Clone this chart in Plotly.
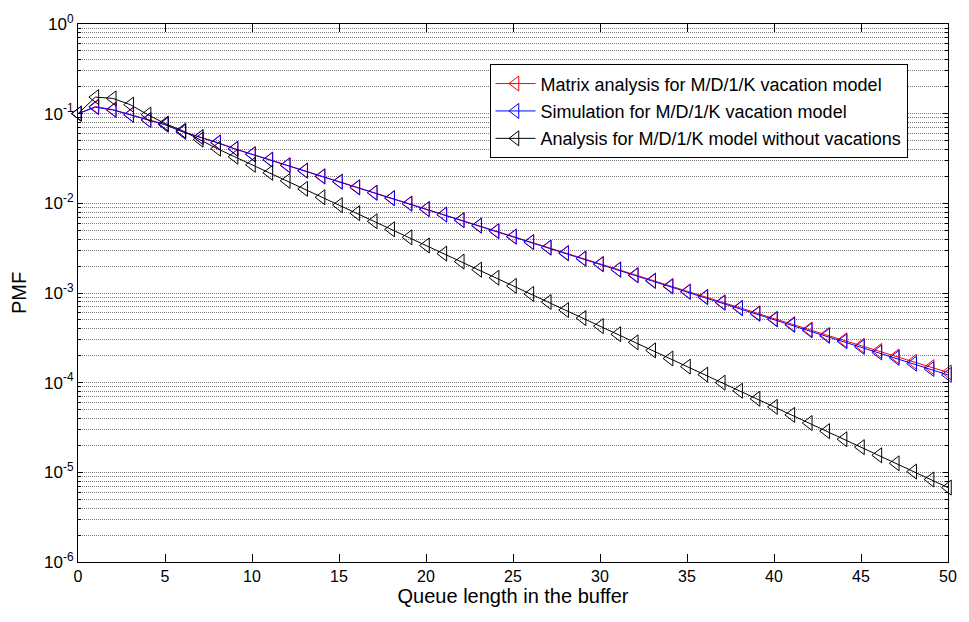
import plotly.graph_objects as go

queue_len = list(range(0, 51))

pmf_matrix = [0.100, 0.120, 0.111, 0.0977, 0.0851, 0.0759, 0.0631, 0.0550, 0.0479, 0.0407,
              0.0354, 0.0307, 0.0267, 0.0232, 0.0201, 0.0175, 0.0152, 0.0132, 0.01146, 0.00995,
              0.00865, 0.00751, 0.00652, 0.00566, 0.00492, 0.00427, 0.00371, 0.00322, 0.00280, 0.00243,
              0.00211, 0.00183, 0.00159, 0.00138, 0.00120, 0.00104, 0.000907, 0.000788, 0.000684, 0.000594,
              0.000516, 0.000450, 0.000392, 0.000341, 0.000297, 0.000259, 0.000226, 0.000196, 0.000171, 0.000149,
              0.000130]

pmf_sim = [0.100, 0.118, 0.110, 0.0970, 0.0846, 0.0752, 0.0628, 0.0548, 0.0474, 0.0405,
           0.0352, 0.0306, 0.0265, 0.0231, 0.0199, 0.0174, 0.0150, 0.0131, 0.01140, 0.00990,
           0.00860, 0.00748, 0.00648, 0.00563, 0.00488, 0.00424, 0.00369, 0.00320, 0.00277, 0.00241,
           0.00209, 0.00182, 0.00157, 0.00136, 0.00118, 0.00103, 0.000896, 0.000778, 0.000677, 0.000586,
           0.000508, 0.000441, 0.000383, 0.000333, 0.000289, 0.000250, 0.000217, 0.000189, 0.000163, 0.000142,
           0.000122]

pmf_novac = [0.100, 0.153, 0.148, 0.126, 0.0977, 0.0776, 0.0646, 0.0513, 0.0407, 0.0331,
             0.0269, 0.0219, 0.0178, 0.0145, 0.0117, 0.00955, 0.00776, 0.00631, 0.00513, 0.00417,
             0.00339, 0.00275, 0.00224, 0.00182, 0.00148, 0.00120, 0.000977, 0.000794, 0.000646, 0.000525,
             0.000427, 0.000347, 0.000282, 0.000229, 0.000186, 0.000151, 0.000123, 0.000100, 8.13e-5, 6.61e-5,
             5.37e-5, 4.37e-5, 3.55e-5, 2.88e-5, 2.34e-5, 1.91e-5, 1.55e-5, 1.26e-5, 1.02e-5, 8.32e-6,
             6.76e-6]

names = ["Matrix analysis for M/D/1/K vacation model",
         "Simulation for M/D/1/K vacation model",
         "Analysis for M/D/1/K model without vacations"]
colors = ["#ff0000", "#0000ff", "#000000"]
series = [pmf_matrix, pmf_sim, pmf_novac]

y_tickvals = [10 ** e for e in range(-6, 1)]
y_ticktext = ["10<sup>%d</sup>" % e for e in range(-6, 1)]
y_minor = [k * 10 ** e for e in range(-6, 0) for k in range(2, 10)]
x_tickvals = list(range(0, 51, 5))

FONT = "Liberation Sans, Arial, sans-serif"
GRID = "#7a7a7a"
DOT = "1px,1px"

fig = go.Figure()
for i, (name, col, vals) in enumerate(zip(names, colors, series)):
    fig.add_trace(go.Scatter(
        x=queue_len, y=vals, name=name, mode="lines+markers",
        legendgroup="g%d" % i, cliponaxis=False,
        line=dict(color=col, width=1),
        marker=dict(symbol="triangle-left-open", size=13, color=col, line=dict(width=1, color=col)),
    ))

fig.update_layout(
    width=969, height=622,
    margin=dict(l=78, r=16, t=22, b=60),
    paper_bgcolor="white", plot_bgcolor="white",
    font=dict(family=FONT, size=17, color="black"),
    showlegend=True,
    legend=dict(
        x=0.473, y=0.925, xanchor="left", yanchor="top",
        bgcolor="white", bordercolor="black", borderwidth=1,
        font=dict(family=FONT, size=18, color="black"),
        tracegroupgap=1, itemwidth=40,
    ),
)

fig.update_xaxes(
    range=[0, 50], tickvals=x_tickvals,
    showline=True, linecolor="black", linewidth=1, mirror="ticks",
    ticks="inside", ticklen=8, tickcolor="black",
    showgrid=False, zeroline=False,
    title=dict(text="Queue length in the buffer", font=dict(size=20), standoff=3),
    tickfont=dict(size=16),
)

fig.update_yaxes(
    type="log", range=[-6, 0],
    tickvals=y_tickvals, ticktext=y_ticktext,
    showline=True, linecolor="black", linewidth=1, mirror="ticks",
    ticks="inside", ticklen=5, tickcolor="black",
    showgrid=True, gridcolor=GRID, griddash=DOT, gridwidth=1,
    minor=dict(tickvals=y_minor, ticks="inside", ticklen=3, tickcolor="black",
               showgrid=True, gridcolor=GRID, griddash=DOT, gridwidth=1),
    zeroline=False,
    title=dict(text="PMF", font=dict(size=20), standoff=12),
    tickfont=dict(size=17),
)

fig.write_html("out.html")
